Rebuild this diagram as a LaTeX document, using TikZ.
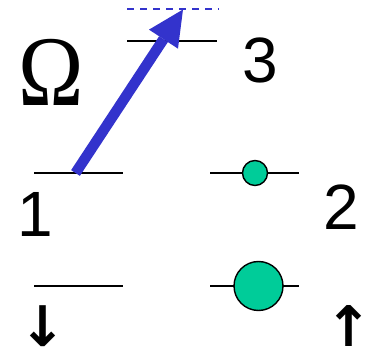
\documentclass[tikz,border=0pt]{standalone}
\usepackage{fontspec}
\setmainfont{Liberation Sans}
\newfontfamily\omegafont{Liberation Serif}
\newfontfamily\arrowfont{DejaVu Sans}
\usetikzlibrary{arrows.meta}
\definecolor{laser}{RGB}{51,51,204}
\definecolor{atom}{RGB}{0,204,153}
\begin{document}
\begin{tikzpicture}[x=1pt,y=-1pt,
  level/.style={line width=1.4pt, black},
  virtual/.style={draw=laser, line width=2pt, dash pattern=on 7pt off 6pt},
  pop/.style={circle, draw=black, line width=1.4pt, fill=atom, inner sep=0pt},
  digit/.style={anchor=base, font=\fontsize{64}{64}\selectfont},
  spin/.style={anchor=north, inner sep=0pt, font=\arrowfont\bfseries\fontsize{56}{56}\selectfont},
  beam/.style={laser, line width=10.5pt, -{Triangle[length=35.5pt, width=34.7pt, line width=0pt]}}
]
\useasboundingbox (0,0) rectangle (367,355);
% levels
\coordinate (v1) at (127,9.5);  \coordinate (v2) at (219,9.5);
\coordinate (e3a) at (127,41);  \coordinate (e3b) at (217,41);
\coordinate (e1a) at (34,173);  \coordinate (e1b) at (123,173);
\coordinate (e2a) at (210,173); \coordinate (e2b) at (299,173);
\coordinate (g1a) at (34,286);  \coordinate (g1b) at (123,286);
\coordinate (g2a) at (210,286); \coordinate (g2b) at (299,286);
\draw[virtual] (v1) -- (v2);
\draw[level] (e3a) -- (e3b);
\draw[level] (e1a) -- (e1b);
\draw[level] (e2a) -- (e2b);
\draw[level] (g1a) -- (g1b);
\draw[level] (g2a) -- (g2b);
% populations
\node[pop, minimum size=25pt] (p1) at (255,173) {};
\node[pop, minimum size=49pt] (p2) at (258.5,286) {};
% laser
\coordinate (bs) at (75.5,173);
\coordinate (bt) at (183,9.5);
\draw[beam] (bs) -- (bt);
% labels
\node[anchor=base, inner sep=0pt, font=\omegafont\fontsize{100}{100}\selectfont] (om) at (51.5,106) {\scalebox{0.88}[1]{Ω}};
\node[digit] (n3) at (260,83) {3};
\node[digit] (n1) at (35,237) {1};
\node[digit] (n2) at (341,230) {2};
\node[spin] (sd) at (43,305) {↓};
\node[spin] (su) at (349,305) {↑};
\end{tikzpicture}
\end{document}
